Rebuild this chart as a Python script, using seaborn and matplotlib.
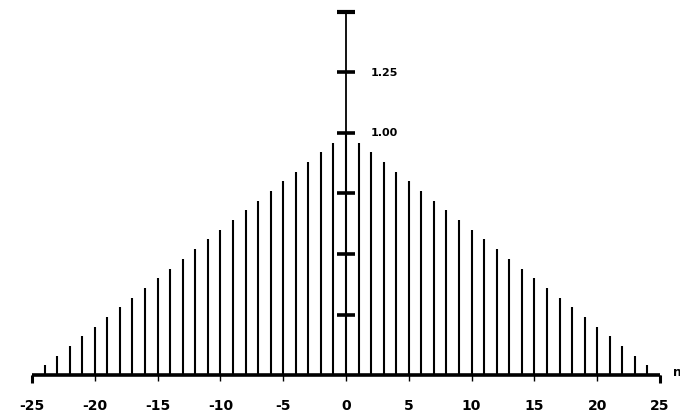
import matplotlib
matplotlib.use("Agg")
import matplotlib.pyplot as plt
import seaborn as sns

# sample index and triangle sequence heights
n = [-24, -23, -22, -21, -20, -19, -18, -17, -16, -15, -14, -13, -12,
     -11, -10, -9, -8, -7, -6, -5, -4, -3, -2, -1, 0,
     1, 2, 3, 4, 5, 6, 7, 8, 9, 10, 11, 12, 13, 14, 15, 16, 17, 18,
     19, 20, 21, 22, 23, 24]
h = [0.04, 0.08, 0.12, 0.16, 0.20, 0.24, 0.28, 0.32, 0.36, 0.40, 0.44, 0.48, 0.52,
     0.56, 0.60, 0.64, 0.68, 0.72, 0.76, 0.80, 0.84, 0.88, 0.92, 0.96, 1.00,
     0.96, 0.92, 0.88, 0.84, 0.80, 0.76, 0.72, 0.68, 0.64, 0.60, 0.56, 0.52, 0.48,
     0.44, 0.40, 0.36, 0.32, 0.28, 0.24, 0.20, 0.16, 0.12, 0.08, 0.04]

xticks = [-25, -20, -15, -10, -5, 0, 5, 10, 15, 20, 25]
xlabels = ["-25", "-20", "-15", "-10", "-5", "0", "5", "10", "15", "20", "25"]
yticks = [0.25, 0.5, 0.75, 1.0, 1.25, 1.5]
ylabels = {1.25: "1.25", 1.0: "1.00"}

sns.set_style("white")
plt.rcParams['font.family'] = ['DejaVu Sans']

fig = plt.figure(figsize=(6.8, 4.19), dpi=100)
ax = fig.add_axes([32 / 680, 44 / 419, 628 / 680, 363 / 419])

ax.vlines(n, 0, h, color="black", lw=1.5)

# central vertical axis with crossing tick marks
ax.vlines(0, 0, 1.5, color="black", lw=1.3)
for y in yticks:
    ax.hlines(y, -0.7, 0.7, color="black", lw=2.6 if y != 1.5 else 3.0, clip_on=False)
    if y in ylabels:
        ax.text(2.0, y, ylabels[y], fontsize=8, fontweight="bold", color="black",
                va="center", ha="left")

# horizontal axis
ax.hlines(0, -25, 25, color="black", lw=2.6, clip_on=False)
ax.vlines([-25, 25], -0.035, 0, color="black", lw=2.2, clip_on=False)
ax.text(26.0, 0.01, "n", fontsize=9, fontweight="bold", color="black", va="center", ha="left")

ax.set_xlim(-25, 25)
ax.set_ylim(0, 1.5)
ax.set_xticks(xticks)
ax.set_xticklabels(xlabels, fontsize=10, fontweight="bold", color="black")
ax.tick_params(axis="x", direction="out", length=4, width=1, pad=13, bottom=True, color="black")
ax.set_yticks([])
sns.despine(ax=ax, left=True, bottom=True)

fig.savefig("out.png", dpi=100)
